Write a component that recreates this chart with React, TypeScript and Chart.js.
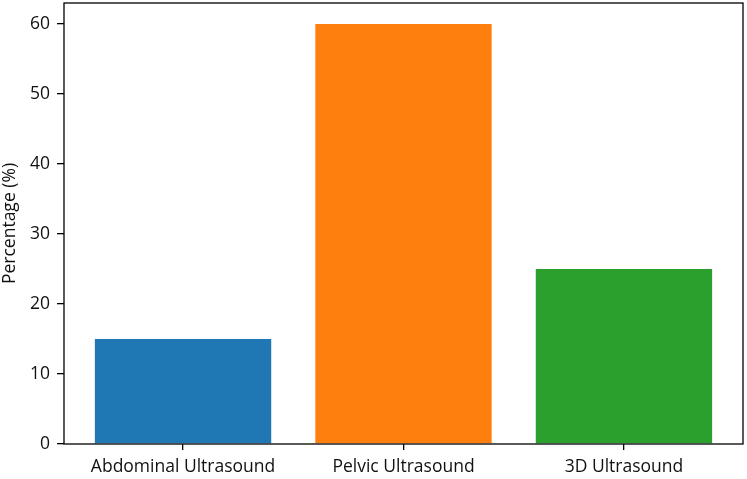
import React, { useEffect, useRef } from "react";
import Chart from "chart.js/auto";

const categories = ["Abdominal Ultrasound", "Pelvic Ultrasound", "3D Ultrasound"];
const percentages = [15, 60, 25];
const barColors = ["#1f77b4", "#ff7f0e", "#2ca02c"];
const yTicks = [0, 10, 20, 30, 40, 50, 60];

const FONT = "'Open Sans', 'DejaVu Sans', sans-serif";

const framePlugin = {
  id: "frame",
  afterDatasetsDraw(chart: any) {
    const { ctx, chartArea } = chart;
    ctx.save();
    ctx.strokeStyle = "#000";
    ctx.lineWidth = 1.3;
    ctx.strokeRect(chartArea.left, chartArea.top, chartArea.right - chartArea.left, chartArea.bottom - chartArea.top);
    ctx.restore();
  },
};

export default function App() {
  const ref = useRef<HTMLCanvasElement>(null);
  useEffect(() => {
    document.body.style.margin = "0";
    const chart = new Chart(ref.current!, {
      type: "bar",
      data: {
        datasets: [
          {
            data: percentages.map((v, i) => ({ x: i, y: v })),
            backgroundColor: barColors,
            borderWidth: 0,
            categoryPercentage: 1,
            barPercentage: 0.8,
          } as any,
        ],
      },
      options: {
        responsive: false,
        animation: false,
        layout: { padding: { top: 3, right: 4, left: 0, bottom: 0 } },
        plugins: { legend: { display: false }, tooltip: { enabled: false } },
        scales: {
          x: {
            type: "linear",
            offset: false,
            min: -0.54,
            max: 2.54,
            afterBuildTicks: (scale: any) => {
              scale.ticks = categories.map((_, i) => ({ value: i }));
            },
            afterFit: (scale: any) => {
              scale.height = 35;
              scale.paddingLeft = 0;
              scale.paddingRight = 0;
            },
            grid: { offset: false, drawOnChartArea: false, drawTicks: true, tickLength: 6, color: "#000", lineWidth: 1.3 },
            border: { display: false },
            ticks: {
              color: "#111",
              font: { family: FONT, size: 17.5 },
              padding: 7,
              maxRotation: 0,
              autoSkip: false,
              callback: (v: any) => categories[v as number] ?? "",
            },
          },
          y: {
            min: 0,
            max: 63,
            afterBuildTicks: (scale: any) => {
              scale.ticks = yTicks.map((v) => ({ value: v }));
            },
            afterFit: (scale: any) => {
              scale.width = 64;
              scale.paddingTop = 0;
              scale.paddingBottom = 0;
            },
            grid: { drawOnChartArea: false, drawTicks: true, tickLength: 7, color: "#000", lineWidth: 1.3 },
            border: { display: false },
            title: {
              display: true,
              text: "Percentage (%)",
              color: "#111",
              font: { family: FONT, size: 17.5 },
              padding: { top: 0, bottom: 0 },
            },
            ticks: {
              color: "#111",
              font: { family: FONT, size: 17.5 },
              padding: 7,
            },
          },
        },
      },
      plugins: [framePlugin],
    } as any);
    return () => chart.destroy();
  }, []);
  return <canvas ref={ref} width={747} height={479} style={{ display: "block" }} />;
}
